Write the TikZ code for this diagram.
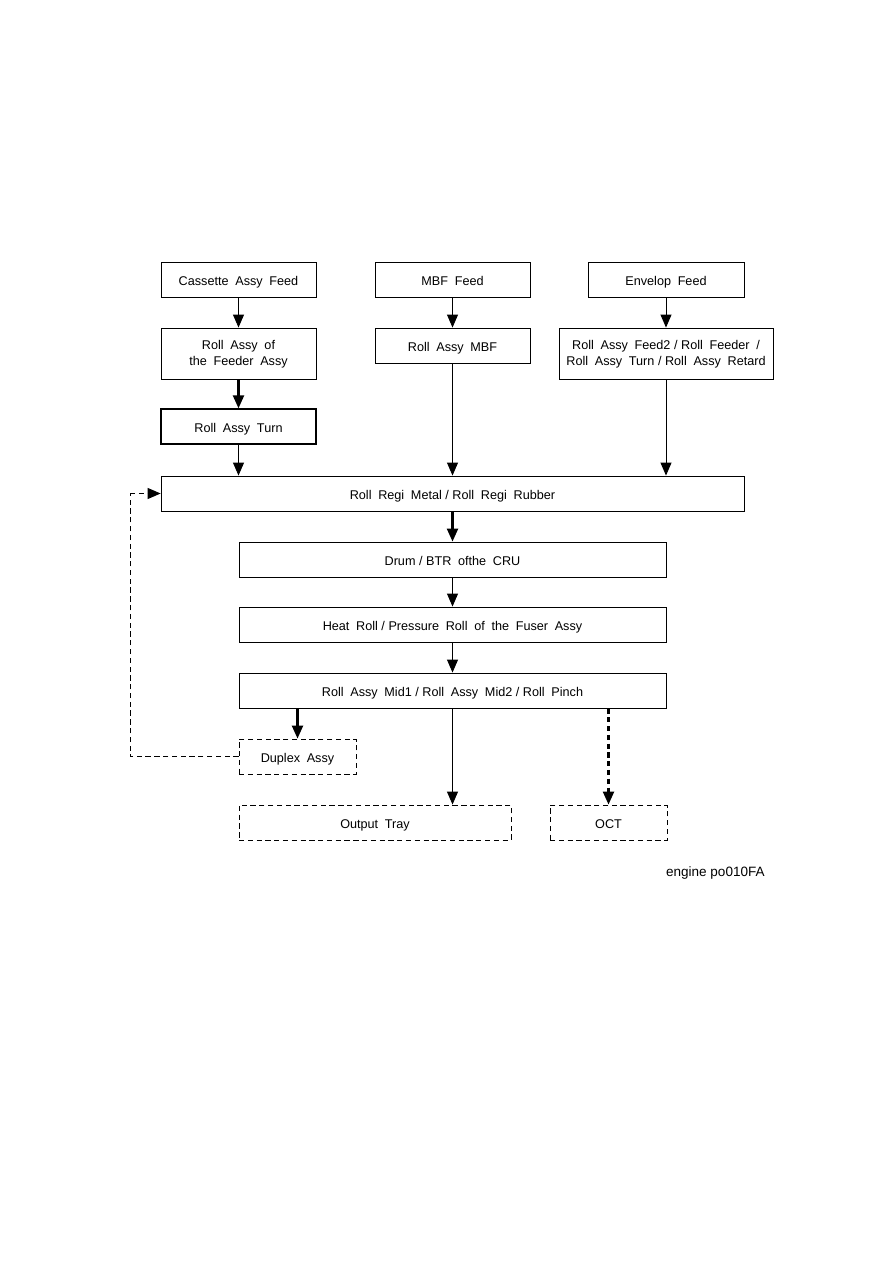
\documentclass[tikz,border=0pt]{standalone}
\usepackage{fontspec}
\setmainfont{Liberation Sans}[WordSpace=1.9]
\newfontfamily\tagfont{Liberation Sans}
\usetikzlibrary{arrows.meta}
\newcommand{\slashsep}{\hspace{0.28em}/\hspace{0.28em}}

\begin{document}
\begin{tikzpicture}[
  x=0.02cm, y=-0.02cm,
  box/.style={rectangle, draw, line width=0.5pt, inner sep=0pt,
    minimum height=0.7cm, align=center, font=\fontsize{7.2}{9}\selectfont},
  one/.style={box, text height=2.3mm, text depth=0.06mm},
  two/.style={box, minimum height=1.02cm, text depth=0.35mm},
  dbox/.style={one, densely dashed},
  flow/.style={draw, line width=0.55pt, -{Triangle[length=2.6mm, width=2.2mm]}},
  heavy/.style={draw, line width=1.3pt, -{Triangle[length=2.6mm, width=2.2mm]}},
  loop/.style={draw, line width=0.5pt, densely dashed}
]
  \useasboundingbox (0,0) rectangle (893,1263);

  % Feed sources.
  \node[one, minimum width=3.1cm] (cas) at (238.5,279.5) {Cassette Assy Feed};
  \node[one, minimum width=3.1cm] (mbf) at (452.5,279.5) {MBF Feed};
  \node[one, minimum width=3.12cm] (env) at (666,279.5) {Envelop Feed};

  % Feed rolls.
  \node[two, minimum width=3.1cm] (feeder) at (238.5,353.5)
    {Roll Assy of\\the Feeder Assy};
  \node[one, minimum width=3.1cm] (rmbf) at (452.5,345.5) {Roll Assy MBF};
  \node[two, minimum width=4.28cm] (renv) at (666,353.5)
    {Roll Assy Feed2\slashsep Roll Feeder /\\Roll Assy Turn\slashsep Roll Assy Retard};
  \node[one, line width=0.75pt, minimum width=3.1cm] (turn) at (238.5,426.5) {Roll Assy Turn};

  % Main path.
  \node[one, minimum width=11.66cm] (regi) at (452.5,493.5) {Roll Regi Metal\slashsep Roll Regi Rubber};
  \node[one, minimum width=8.54cm] (drum) at (452.5,559.5) {Drum\slashsep BTR ofthe CRU};
  \node[one, minimum width=8.54cm] (heat) at (452.5,624.5) {Heat Roll\slashsep Pressure Roll of the Fuser Assy};
  \node[one, minimum width=8.54cm] (mid) at (452.5,690.5) {Roll Assy Mid1\slashsep Roll Assy Mid2\slashsep Roll Pinch};

  % Exits.
  \node[dbox, minimum width=2.34cm] (dup) at (297.5,756.5) {Duplex Assy};
  \node[dbox, minimum width=5.44cm] (out) at (375,822.5) {Output Tray};
  \node[dbox, minimum width=2.34cm] (oct) at (608.5,822.5) {OCT};

  \coordinate (lpB) at (130,756.5);
  \coordinate (lpT) at (130,493.5);

  \draw[flow] (cas)--(feeder);
  \draw[heavy] (feeder)--(turn);
  \draw[flow] (turn)--(turn|-regi.north);
  \draw[flow] (mbf)--(rmbf);
  \draw[flow] (rmbf)--(rmbf|-regi.north);
  \draw[flow] (env)--(renv);
  \draw[flow] (renv)--(renv|-regi.north);
  \draw[heavy] (regi)--(drum);
  \draw[flow] (drum)--(heat);
  \draw[flow] (heat)--(mid);
  \draw[heavy] (dup|-mid.south)--(dup);
  \draw[flow] (mid.south)--(mid.south|-out.north);
  \draw[heavy, densely dashed] (oct|-mid.south)--(oct);
  \draw[loop] (dup.west)--(lpB)--(lpT);
  \draw[flow, densely dashed] (lpT)--(regi.west);

  \node[anchor=east, inner sep=0pt, font=\tagfont\fontsize{7.7}{10}\selectfont] (tag) at (765,873) {engine po010FA};
\end{tikzpicture}
\end{document}
